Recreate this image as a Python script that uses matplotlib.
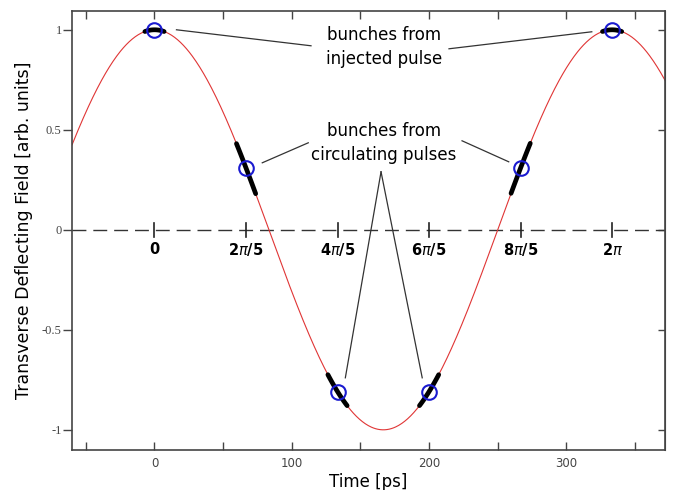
"""Transverse deflecting field seen by bunches from injected and circulating pulses."""
import matplotlib

matplotlib.use("Agg")
import matplotlib.pyplot as plt
import numpy as np

# sinusoid
PERIOD_PS = 333.3
AMPLITUDE = 1.0
T_RANGE = (-60, 372)

# bunch positions and their phase labels
BUNCH_T = [0.0, 66.7, 133.3, 200.0, 266.7, 333.3]
BUNCH_LABELS = ["0", r"2$\pi$/5", r"4$\pi$/5", r"6$\pi$/5", r"8$\pi$/5", r"2$\pi$"]
BUNCH_HALF_LEN = 7.0  # ps, half length of the thick black bunch segment

X_TICKS = [-50, 0, 50, 100, 150, 200, 250, 300, 350]
X_TICK_LABELS = ["", "0", "", "100", "", "200", "", "300", ""]
Y_TICKS = [-1, -0.5, 0, 0.5, 1]
Y_TICK_LABELS = ["-1", "-0.5", "0", "0.5", "1"]

# annotation text positions and leader lines (data coords)
INJ_TEXT = (167, 0.915)
INJ_LINES = [((16, 1.0), (114, 0.92)), ((214.5, 0.905), (318.5, 0.99))]
CIRC_TEXT = (167, 0.435)
CIRC_LINES = [((78.5, 0.335), (112, 0.435)), ((224, 0.445), (258, 0.34)),
              ((165, 0.29), (139, -0.74)), ((165, 0.29), (195, -0.74))]


def field(t):
    return AMPLITUDE * np.cos(2 * np.pi * np.asarray(t) / PERIOD_PS)


fig = plt.figure(figsize=(6.74, 4.9), dpi=100)
ax = fig.add_axes([0.107, 0.082, 0.88, 0.896])

t = np.linspace(*T_RANGE, 800)
ax.plot(t, field(t), color="#e03535", lw=0.8, zorder=2)

ax.axhline(0, color="#333333", lw=1.0, dashes=(10, 5), zorder=1)

for tb, lbl in zip(BUNCH_T, BUNCH_LABELS):
    seg = np.linspace(tb - BUNCH_HALF_LEN, tb + BUNCH_HALF_LEN, 30)
    ax.plot(seg, field(seg), color="black", lw=3.4, solid_capstyle="round", zorder=3)
    ax.plot([tb], field([tb]), "o", ms=10.5, mfc="none", mec="#1a1ad0", mew=1.5, zorder=4)
    ax.plot([tb, tb], [-0.035, 0.035], color="#222222", lw=1.2, zorder=2)
    ax.text(tb, -0.1, lbl, ha="center", va="center", fontsize=10.5, weight="bold")

ax.text(*INJ_TEXT, "bunches from\ninjected pulse", ha="center", va="center",
        fontsize=12, linespacing=1.4)
ax.text(*CIRC_TEXT, "bunches from\ncirculating pulses", ha="center", va="center",
        fontsize=12, linespacing=1.4)
for (x0, y0), (x1, y1) in INJ_LINES + CIRC_LINES:
    ax.plot([x0, x1], [y0, y1], color="#333333", lw=0.9, zorder=2)

ax.set_xlim(*T_RANGE)
ax.set_ylim(-1.1, 1.095)
ax.set_xticks(X_TICKS)
ax.set_xticklabels(X_TICK_LABELS)
ax.set_yticks(Y_TICKS)
ax.set_yticklabels(Y_TICK_LABELS, family="Liberation Serif")
ax.tick_params(axis="x", direction="in", top=True, length=6, width=1,
               color="#444444", labelcolor="#444444", labelsize=8.5, pad=5)
ax.tick_params(axis="y", direction="out", length=6.5, width=1,
               color="#444444", labelcolor="#444444", labelsize=9, pad=1)
right = ax.secondary_yaxis("right")
right.set_yticks(Y_TICKS)
right.tick_params(direction="in", length=5, width=1, color="#444444", labelright=False)
right.spines["right"].set_color("#444444")
for s in ax.spines.values():
    s.set_color("#444444")
    s.set_linewidth(1.2)

ax.set_xlabel("Time [ps]", fontsize=12, labelpad=2)
ax.set_ylabel("Transverse Deflecting Field [arb. units]", fontsize=12.5, labelpad=6)

fig.savefig("out.png", dpi=100)
